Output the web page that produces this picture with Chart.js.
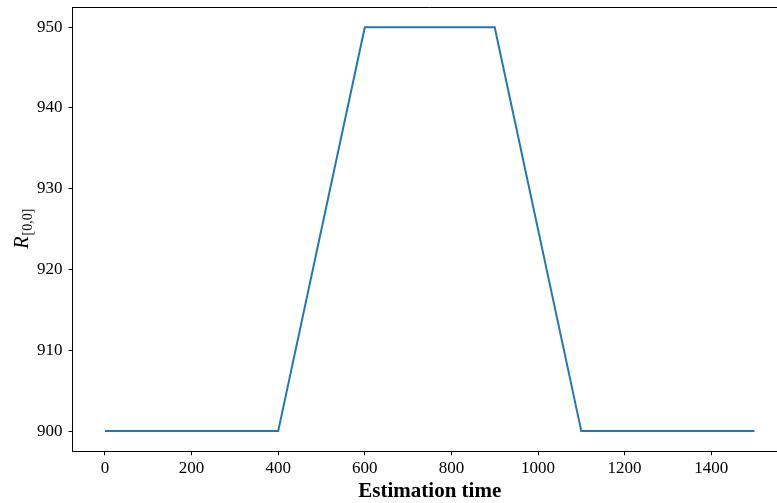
<!DOCTYPE html>
<html>
<head>
<meta charset="utf-8">
<script src="https://cdn.jsdelivr.net/npm/chart.js@4.4.0/dist/chart.umd.min.js"></script>
<style>
html,body{margin:0;padding:0;background:#fff;overflow:hidden;width:777px;height:503px;}
#wrap{position:absolute;left:0;top:0;width:790px;height:503px;}
</style>
</head>
<body>
<div id="wrap"><canvas id="c" width="790" height="503"></canvas></div>
<script>
const timeSteps = [0, 400, 600, 900, 1100, 1500];
const rValues = [900, 900, 950, 950, 900, 900];
const xTicks = [0, 200, 400, 600, 800, 1000, 1200, 1400];
const yTicks = [900, 910, 920, 930, 940, 950];
const xLabel = 'Estimation time';
const yLabelMain = 'R';
const yLabelSub = '[0,0]';

const FONT = '"Liberation Serif", "DejaVu Serif", serif';

const extras = {
  id: 'extras',
  afterDraw(chart) {
    const ctx = chart.ctx;
    const a = chart.chartArea;
    ctx.save();
    // top spine
    ctx.strokeStyle = '#000';
    ctx.lineWidth = 1;
    ctx.beginPath();
    ctx.moveTo(a.left, a.top + 0.5);
    ctx.lineTo(a.right, a.top + 0.5);
    ctx.stroke();
    // x label
    ctx.fillStyle = '#000';
    ctx.font = 'bold 21px ' + FONT;
    ctx.textAlign = 'center';
    ctx.textBaseline = 'alphabetic';
    ctx.fillText(xLabel, (a.left + a.right) / 2, 497);
    // y label
    ctx.translate(24, (a.top + a.bottom) / 2);
    ctx.rotate(-Math.PI / 2);
    ctx.font = 'italic 20px ' + FONT;
    const w1 = ctx.measureText(yLabelMain).width;
    ctx.font = '14px ' + FONT;
    const w2 = ctx.measureText(yLabelSub).width;
    const start = -(w1 + w2) / 2;
    ctx.font = 'italic 20px ' + FONT;
    ctx.textAlign = 'left';
    ctx.fillText(yLabelMain, start, 4);
    ctx.font = '14px ' + FONT;
    ctx.fillText(yLabelSub, start + w1 + 1, 8);
    ctx.restore();
  }
};

new Chart(document.getElementById('c'), {
  type: 'line',
  data: {
    datasets: [{
      data: timeSteps.map((t, i) => ({x: t, y: rValues[i]})),
      borderColor: '#1f77b4',
      borderWidth: 2,
      pointRadius: 0,
      tension: 0,
      fill: false
    }]
  },
  options: {
    responsive: false,
    animation: false,
    layout: {padding: {left: 0, right: 3, top: 7, bottom: 0}},
    plugins: {legend: {display: false}, tooltip: {enabled: false}},
    scales: {
      x: {
        type: 'linear',
        min: -75,
        max: 1575,
        afterBuildTicks(s) { s.ticks = xTicks.map(v => ({value: v})); },
        afterFit(s) { s.height = 51.7; s.paddingLeft = 0; s.paddingRight = 0; },
        grid: {display: true, drawOnChartArea: false, drawTicks: true, tickLength: 4, color: '#000', lineWidth: 1},
        border: {display: true, color: '#000', width: 1},
        ticks: {color: '#000', padding: 3, font: {family: FONT, size: 17}, maxRotation: 0, autoSkip: false,
                callback: v => String(v)}
      },
      y: {
        type: 'linear',
        min: 897.5,
        max: 952.5,
        afterBuildTicks(s) { s.ticks = yTicks.map(v => ({value: v})); },
        afterFit(s) { s.width = 72.5; s.paddingTop = 0; s.paddingBottom = 0; },
        grid: {display: true, drawOnChartArea: false, drawTicks: true, tickLength: 4, color: '#000', lineWidth: 1},
        border: {display: true, color: '#000', width: 1},
        ticks: {color: '#000', padding: 6, font: {family: FONT, size: 17}, callback: v => String(v)}
      }
    }
  },
  plugins: [extras]
});
</script>
</body>
</html>
